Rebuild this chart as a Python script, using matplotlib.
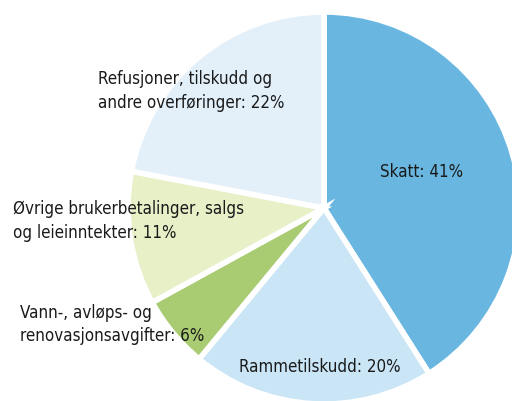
import matplotlib.pyplot as plt

# data
labels = ["Skatt", "Rammetilskudd", "Vann-, avløps- og\nrenovasjonsavgifter",
          "Øvrige brukerbetalinger, salgs\nog leieinntekter",
          "Refusjoner, tilskudd og\nandre overføringer"]
shares = [41, 20, 6, 11, 22]
colors = ["#69b7e1", "#c9e5f6", "#a9cb72", "#e8f0c8", "#e3f0fa"]

# label placement (data units, pie radius = 1)
label_pos = [(0.497, 0.185, "center"), (-0.02, -0.81, "center"),
             (-1.551, -0.595, "left"), (-1.587, -0.066, "left"),
             (-1.151, 0.597, "left")]

plt.rcParams['font.family'] = ['DejaVu Sans']
plt.rcParams['font.stretch'] = 'condensed'

W, H, dpi = 512, 401, 100
cx, cy, R = 324, 208, 196

fig = plt.figure(figsize=(W / dpi, H / dpi), dpi=dpi)
ax = fig.add_axes([0, 0, 1, 1])
ax.pie(shares, colors=colors, startangle=90, counterclock=False,
       wedgeprops=dict(edgecolor="white", linewidth=4))
ax.set_xlim(-cx / R, (W - cx) / R)
ax.set_ylim(-(H - cy) / R, cy / R)
ax.set_aspect('auto')
ax.axis('off')

for lab, val, (x, y, ha) in zip(labels, shares, label_pos):
    ax.text(x, y, f"{lab}: {val}%", ha=ha, va="center", fontsize=12.2,
            color="#1a1a1a", linespacing=1.4)

fig.savefig("out.png", dpi=dpi)
